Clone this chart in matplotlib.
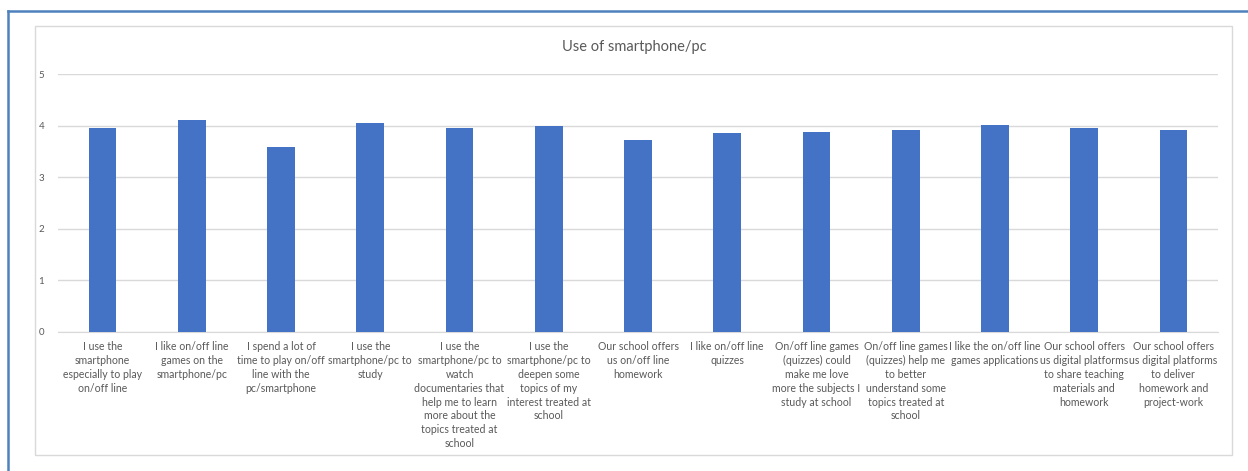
import matplotlib.pyplot as plt
from matplotlib.patches import Rectangle
from matplotlib.lines import Line2D

plt.rcParams['font.family'] = ['Lato', 'DejaVu Sans']

labels = [
    'I use the\nsmartphone\nespecially to play\non/off line',
    'I like on/off line\ngames on the\nsmartphone/pc',
    'I spend a lot of\ntime to play on/off\nline with the\npc/smartphone',
    'I use the\nsmartphone/pc to\nstudy',
    'I use the\nsmartphone/pc to\nwatch\ndocumentaries that\nhelp me to learn\nmore about the\ntopics treated at\nschool',
    'I use the\nsmartphone/pc to\ndeepen some\ntopics of my\ninterest treated at\nschool',
    'Our school offers\nus on/off line\nhomework',
    'I like on/off line\nquizzes',
    'On/off line games\n(quizzes) could\nmake me love\nmore the subjects I\nstudy at school',
    'On/off line games\n(quizzes) help me\nto better\nunderstand some\ntopics treated at\nschool',
    'I like the on/off line\ngames applications',
    'Our school offers\nus digital platforms\nto share teaching\nmaterials and\nhomework',
    'Our school offers\nus digital platforms\nto deliver\nhomework and\nproject-work',
]
values = [3.95, 4.10, 3.58, 4.04, 3.95, 3.99, 3.72, 3.85, 3.87, 3.92, 4.01, 3.95, 3.92]

W, H = 1248, 471
fig = plt.figure(figsize=(W / 100, H / 100), dpi=100)

# outer blue frame (left and top edges only visible)
fig.add_artist(Line2D([7.5 / W, 7.5 / W], [0, 1 - 11 / H], color='#4f81bd', lw=1.8))
fig.add_artist(Line2D([7.5 / W, 1], [1 - 11 / H, 1 - 11 / H], color='#4f81bd', lw=1.8))
# chart area border
fig.add_artist(Rectangle((35 / W, 1 - 455 / H), (1232 - 35) / W, (455 - 26) / H,
                         fill=False, edgecolor='#d9d9d9', lw=1))

ax = fig.add_axes([58 / W, 1 - 331.7 / H, (1218 - 58) / W, (331.7 - 74) / H])
x = range(len(values))
ax.bar(x, values, width=0.31, color='#4472c4', zorder=3)
ax.set_xlim(-0.5, len(values) - 0.5)
ax.set_ylim(0, 5)
ax.set_yticks([0, 1, 2, 3, 4, 5])
ax.grid(axis='y', color='#d9d9d9', lw=1, zorder=0)
for s in ['top', 'right', 'left']:
    ax.spines[s].set_visible(False)
ax.spines['bottom'].set_color('#d9d9d9')
ax.tick_params(axis='both', length=0, colors='#595959', labelsize=7)
ax.tick_params(axis='y', pad=10)
ax.set_xticks(list(x))
ax.set_xticklabels(labels, fontsize=7.6, linespacing=1.31, va='top')
ax.tick_params(axis='x', pad=7)

fig.text(634 / W, 1 - 47 / H, 'Use of smartphone/pc', ha='center', va='center',
         fontsize=10.5, color='#595959')

plt.savefig('out.png', dpi=100)
